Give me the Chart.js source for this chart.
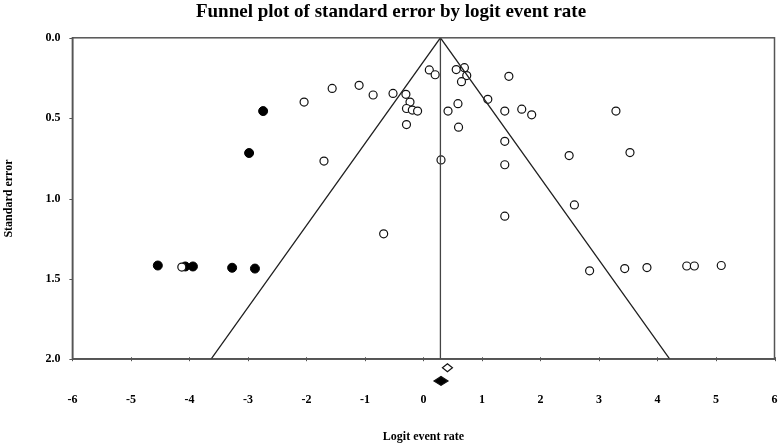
<!DOCTYPE html>
<html>
<head>
<meta charset="utf-8">
<script src="https://cdn.jsdelivr.net/npm/chart.js@4.4.1/dist/chart.umd.min.js"></script>
<style>
  html, body { margin: 0; padding: 0; background: #fff; }
  #wrap { width: 780px; height: 446px; }
</style>
</head>
<body>
<div id="wrap"><canvas id="funnel"></canvas></div>
<script>
// observed studies (open circles): logit event rate and standard error
const observedRate = [-4.13, -0.68, 2.58, 1.39, 2.84, 3.44, 3.82, 4.50, 4.63, 5.09,
  -2.04, -1.56, -1.10, -0.86, -0.52, -0.30, -0.23, -0.29, -0.19, -0.10,
  -0.29, 0.10, 0.20, -1.70, 0.30, 0.56, 0.70, 0.74, 0.65, 0.59,
  0.42, 0.60, 1.10, 1.46, 1.39, 1.68, 1.85, 3.29, 1.39, 2.49,
  3.53, 1.39];
const observedSE = [1.427, 1.22, 1.04, 1.11, 1.45, 1.436, 1.43, 1.42, 1.42, 1.417,
  0.40, 0.315, 0.296, 0.356, 0.346, 0.352, 0.40, 0.44, 0.45, 0.456,
  0.54, 0.20, 0.23, 0.767, 0.76, 0.198, 0.186, 0.235, 0.273, 0.41,
  0.456, 0.556, 0.383, 0.24, 0.456, 0.444, 0.479, 0.456, 0.644, 0.733,
  0.714, 0.79];

// imputed studies (filled circles)
const imputedRate = [-4.54, -4.07, -3.94, -3.27, -2.88, -2.74, -2.98];
const imputedSE = [1.417, 1.423, 1.423, 1.431, 1.436, 0.456, 0.717];

// funnel limits and the mean line
const funnelRate = [-3.63, 0.29, 4.21];
const funnelSE = [2.0, 0.0, 2.0];
const meanRate = [0.29, 0.29];
const meanSE = [0.0, 2.0];

// summary diamonds under the axis: observed (open) and adjusted (filled)
const summaryRate = [0.41, 0.30];
const summarySE = [2.053, 2.135];

// x and y tick values
const xTicks = [-6, -5, -4, -3, -2, -1, 0, 1, 2, 3, 4, 5, 6];
const yTicks = [0.0, 0.5, 1.0, 1.5, 2.0];

function toPoints(xs, ys) {
  const pts = [];
  for (let i = 0; i < xs.length; i++) {
    pts.push({ x: xs[i], y: ys[i] });
  }
  return pts;
}

const serif = "'Liberation Serif', 'Times New Roman', serif";

// frame, short tick marks and the two summary diamonds
const framePlugin = {
  id: "frameAndDiamonds",
  afterDraw(chart) {
    const ctx = chart.ctx;
    const a = chart.chartArea;
    const xs = chart.scales.x;
    const ys = chart.scales.y;
    ctx.save();
    ctx.strokeStyle = "#555";
    ctx.lineWidth = 1.5;
    ctx.strokeRect(a.left, a.top, a.right - a.left, a.bottom - a.top);

    // tick marks: across the x axis, outward on the y axis
    ctx.lineWidth = 1;
    ctx.beginPath();
    for (let i = 0; i < xTicks.length; i++) {
      const px = Math.round(xs.getPixelForValue(xTicks[i])) + 0.5;
      ctx.moveTo(px, a.bottom - 2);
      ctx.lineTo(px, a.bottom + 2);
    }
    for (let i = 0; i < yTicks.length; i++) {
      const py = Math.round(ys.getPixelForValue(yTicks[i])) + 0.5;
      ctx.moveTo(a.left - 3, py);
      ctx.lineTo(a.left, py);
    }
    ctx.stroke();

    for (let i = 0; i < summaryRate.length; i++) {
      const cx = xs.getPixelForValue(summaryRate[i]);
      const cy = ys.getPixelForValue(summarySE[i]);
      const hw = i === 0 ? 5 : 7;
      const hh = i === 0 ? 4 : 4.5;
      ctx.beginPath();
      ctx.moveTo(cx - hw, cy);
      ctx.lineTo(cx, cy - hh);
      ctx.lineTo(cx + hw, cy);
      ctx.lineTo(cx, cy + hh);
      ctx.closePath();
      ctx.lineWidth = 1.2;
      ctx.strokeStyle = "#111";
      ctx.fillStyle = i === 0 ? "#fff" : "#000";
      ctx.fill();
      ctx.stroke();
    }
    ctx.restore();
  }
};

window.addEventListener("DOMContentLoaded", () => {
  const ctx = document.getElementById("funnel").getContext("2d");

  new Chart(ctx, {
    type: "scatter",
    data: {
      datasets: [
        {
          label: "Funnel",
          data: toPoints(funnelRate, funnelSE),
          showLine: true,
          borderColor: "#222",
          borderWidth: 1.3,
          pointRadius: 0
        },
        {
          label: "Mean",
          data: toPoints(meanRate, meanSE),
          showLine: true,
          borderColor: "#444",
          borderWidth: 1.3,
          pointRadius: 0
        },
        {
          label: "Observed",
          data: toPoints(observedRate, observedSE),
          pointRadius: 4,
          pointBorderWidth: 1.2,
          borderColor: "#111",
          backgroundColor: "#fff"
        },
        {
          label: "Imputed",
          data: toPoints(imputedRate, imputedSE),
          pointRadius: 4.5,
          pointBorderWidth: 1,
          borderColor: "#000",
          backgroundColor: "#000"
        }
      ]
    },
    plugins: [framePlugin],
    options: {
      responsive: true,
      maintainAspectRatio: false,
      animation: false,
      layout: { padding: { top: 0, right: 0, bottom: 2, left: 2 } },
      plugins: {
        legend: { display: false },
        tooltip: { enabled: false },
        title: {
          display: true,
          text: "Funnel plot of standard error by logit event rate",
          color: "#000",
          font: { family: serif, size: 19, weight: "bold" },
          padding: { top: 1, bottom: 14 }
        }
      },
      scales: {
        x: {
          type: "linear",
          min: -6,
          max: 6,
          afterBuildTicks: (scale) => {
            scale.ticks = xTicks.map(v => ({ value: v }));
          },
          ticks: {
            color: "#000",
            font: { family: serif, size: 12, weight: "bold" },
            padding: 0,
            maxRotation: 0,
            callback: (v) => String(v)
          },
          // invisible long tick slot leaves room for the diamonds
          grid: { drawOnChartArea: false, drawTicks: true, tickLength: 34, tickColor: "rgba(0,0,0,0)" },
          border: { display: true, color: "#555", width: 1.5 },
          title: {
            display: true,
            text: "Logit event rate",
            color: "#000",
            font: { family: serif, size: 12, weight: "bold" },
            padding: { top: 22, bottom: 0 }
          }
        },
        y: {
          type: "linear",
          reverse: true,
          min: 0,
          max: 2,
          afterBuildTicks: (scale) => {
            scale.ticks = yTicks.map(v => ({ value: v }));
          },
          ticks: {
            color: "#000",
            font: { family: serif, size: 12, weight: "bold" },
            padding: 0,
            callback: (v) => Number(v).toFixed(1)
          },
          grid: { drawOnChartArea: false, drawTicks: true, tickLength: 12, tickColor: "rgba(0,0,0,0)" },
          border: { display: true, color: "#555", width: 1.5 },
          title: {
            display: true,
            text: "Standard error",
            color: "#000",
            font: { family: serif, size: 12, weight: "bold" },
            padding: { top: 0, bottom: 29 }
          }
        }
      }
    }
  });
});
</script>
</body>
</html>
